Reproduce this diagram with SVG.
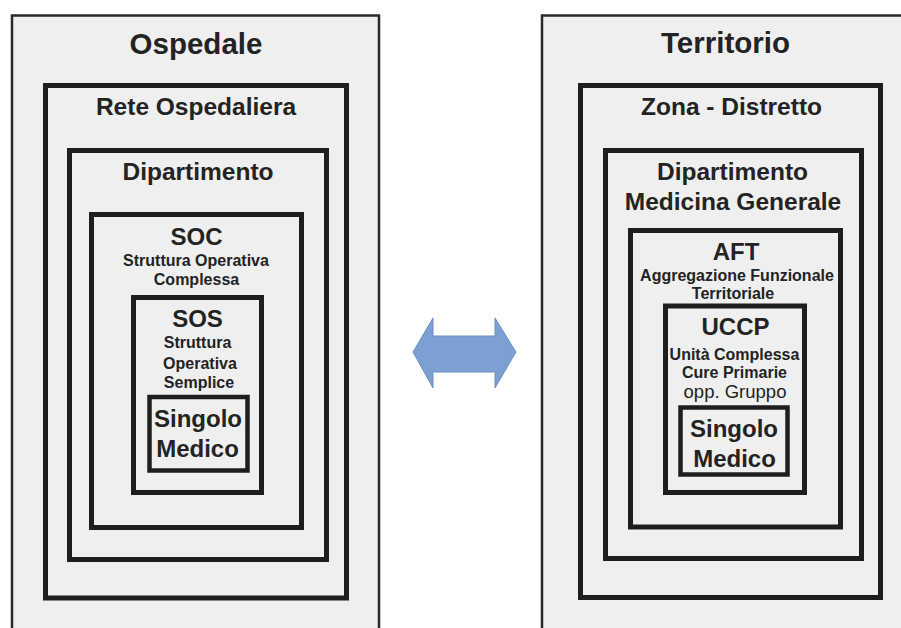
<svg xmlns="http://www.w3.org/2000/svg" width="901" height="628" viewBox="0 0 901 628">
  <style>
    .outer { fill: #efefef; stroke: #2a2a2a; stroke-width: 2.5; }
    .box { fill: #efefef; stroke: #1e1e1e; stroke-width: 5; }
    .box-sm { fill: #efefef; stroke: #1e1e1e; stroke-width: 4.5; }
    text { font-family: "Liberation Sans", Arial, sans-serif; fill: #232323; text-anchor: middle; font-weight: bold; }
    .t1 { font-size: 29.5px; }
    .t2 { font-size: 24.5px; }
    .t3 { font-size: 24px; }
    .sub { font-size: 16px; }
    .reg { font-size: 18.5px; font-weight: normal; }
    .arrow { fill: #7da0d2; stroke: #6d8fc2; stroke-width: 1; }
  </style>
  <rect width="901" height="628" fill="#ffffff"/>

  <!-- Hospital hierarchy -->
  <g id="ospedale">
    <rect class="outer" x="12" y="15.5" width="367" height="630"/>
    <text class="t1" x="196" y="54">Ospedale</text>
  </g>
  <g id="rete-ospedaliera">
    <rect class="box" x="45.5" y="85.5" width="301" height="512.5"/>
    <text class="t2" x="196" y="115">Rete Ospedaliera</text>
  </g>
  <g id="dipartimento">
    <rect class="box" x="69.5" y="150.5" width="257" height="409"/>
    <text class="t2" x="198" y="180">Dipartimento</text>
  </g>
  <g id="soc">
    <rect class="box" x="91.5" y="214.5" width="210" height="313"/>
    <text class="t3" x="196.5" y="245">SOC</text>
    <text class="sub" x="196" y="266">Struttura Operativa</text>
    <text class="sub" x="196.5" y="285">Complessa</text>
  </g>
  <g id="sos">
    <rect class="box" x="133.5" y="297.5" width="128" height="195"/>
    <text class="t3" x="197.5" y="327">SOS</text>
    <text class="sub" x="197.5" y="348">Struttura</text>
    <text class="sub" x="200" y="369">Operativa</text>
    <text class="sub" x="199" y="388">Semplice</text>
  </g>
  <g id="singolo-medico-ospedale">
    <rect class="box-sm" x="149.5" y="397" width="98" height="73.5"/>
    <text class="t3" x="198" y="427">Singolo</text>
    <text class="t3" x="197.5" y="457">Medico</text>
  </g>

  <!-- Territory hierarchy -->
  <g id="territorio">
    <rect class="outer" x="542" y="15.5" width="380" height="630"/>
    <text class="t1" x="725.5" y="53">Territorio</text>
  </g>
  <g id="zona-distretto">
    <rect class="box" x="580.5" y="85.5" width="300" height="512"/>
    <text class="t2" x="731.5" y="115">Zona - Distretto</text>
  </g>
  <g id="dipartimento-medicina-generale">
    <rect class="box" x="605.5" y="150.5" width="256" height="408"/>
    <text class="t2" x="732.5" y="180">Dipartimento</text>
    <text class="t2" x="733" y="210">Medicina Generale</text>
  </g>
  <g id="aft">
    <rect class="box" x="630.5" y="230.5" width="210" height="296.5"/>
    <text class="t3" x="736" y="260">AFT</text>
    <text class="sub" x="737" y="281">Aggregazione Funzionale</text>
    <text class="sub" x="733" y="299">Territoriale</text>
  </g>
  <g id="uccp">
    <rect class="box" x="665.5" y="306" width="139" height="186.5"/>
    <text class="t3" x="735.5" y="335">UCCP</text>
    <text class="sub" x="734.5" y="360">Unità Complessa</text>
    <text class="sub" x="734.5" y="378">Cure Primarie</text>
    <text class="reg" x="735" y="398">opp. Gruppo</text>
  </g>
  <g id="singolo-medico-territorio">
    <rect class="box-sm" x="680.5" y="407.5" width="107" height="67"/>
    <text class="t3" x="734" y="437">Singolo</text>
    <text class="t3" x="734.5" y="467">Medico</text>
  </g>

  <!-- Connector: two-way arrow between the two structures -->
  <g id="connectors">
    <polygon class="arrow" points="413,352 433,318 433,336 495,336 495,318 516,352 495,388 495,372 433,372 433,388"/>
  </g>
</svg>
